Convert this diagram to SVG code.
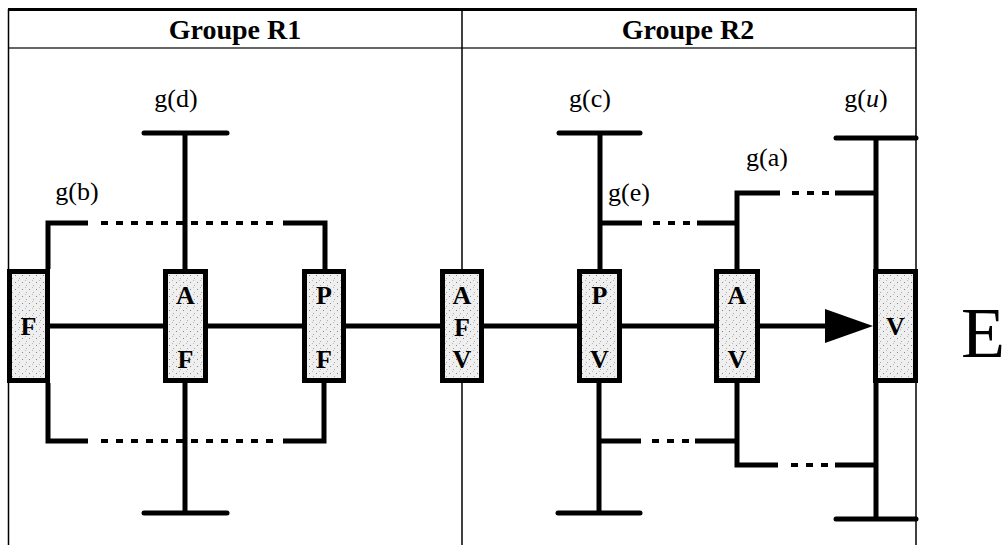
<svg xmlns="http://www.w3.org/2000/svg" width="1007" height="545" viewBox="0 0 1007 545">
<defs>
<pattern id="stip" width="7" height="7" patternUnits="userSpaceOnUse">
<rect width="7" height="7" fill="#efefef"/>
<rect x="1" y="2" width="1" height="1" fill="#888"/>
<rect x="5" y="5" width="1" height="1" fill="#aaa"/>
<rect x="4" y="0" width="1" height="1" fill="#bbb"/>
</pattern>
<style>
.frame{stroke:#000;fill:none;stroke-width:1.5}
.thick{stroke:#000;stroke-width:5;fill:none;stroke-linecap:butt}
.bar{stroke:#000;stroke-width:5;fill:none;stroke-linecap:round}
.dash{stroke:#000;stroke-width:4;fill:none;stroke-dasharray:7 8}
.box{fill:url(#stip);stroke:#000;stroke-width:5}
.bl{font-family:"Liberation Serif",serif;font-size:26px;font-weight:bold;text-anchor:middle}
.lbl{font-family:"Liberation Serif",serif;font-size:26px;text-anchor:middle}
.hdr{font-family:"Liberation Serif",serif;font-size:28px;font-weight:bold;text-anchor:middle}
</style>
</defs>
<rect width="1007" height="545" fill="#fff"/>
<g id="frame">
<line x1="8" y1="9.5" x2="917" y2="9.5" stroke="#000" stroke-width="3"/>
<line x1="8" y1="48" x2="916" y2="48" stroke="#333" stroke-width="1.5"/>
<line class="frame" x1="8.5" y1="9" x2="8.5" y2="545"/>
<line class="frame" x1="462" y1="9" x2="462" y2="545"/>
<line class="frame" x1="916" y1="9" x2="916" y2="545"/>
<text class="hdr" x="235" y="39">Groupe R1</text>
<text class="hdr" x="688" y="39">Groupe R2</text>
</g>
<g id="connectors">
<line class="thick" x1="50" y1="326" x2="825" y2="326"/>
<polygon points="825,309 873,326 825,343" fill="#000"/>
<polyline class="thick" points="48,269 48,223 88,223"/>
<line class="dash" x1="101" y1="223" x2="280" y2="223"/>
<polyline class="thick" points="283,223 325,223 325,269"/>
<polyline class="thick" points="48,383 48,441 88,441"/>
<line class="dash" x1="101" y1="441" x2="280" y2="441"/>
<polyline class="thick" points="283,441 324,441 324,383"/>
<line class="thick" x1="185" y1="133" x2="185" y2="269"/>
<line class="bar" x1="144" y1="133" x2="227" y2="133"/>
<line class="thick" x1="185" y1="383" x2="185" y2="513"/>
<line class="bar" x1="144" y1="513" x2="227" y2="513"/>
<line class="thick" x1="600" y1="133" x2="600" y2="269"/>
<line class="bar" x1="559" y1="133" x2="640" y2="133"/>
<line class="thick" x1="599" y1="383" x2="599" y2="513"/>
<line class="bar" x1="558" y1="513" x2="640" y2="513"/>
<line class="thick" x1="600" y1="223" x2="642" y2="223"/>
<line class="dash" x1="653" y1="223" x2="692" y2="223"/>
<line class="thick" x1="697" y1="223" x2="737" y2="223"/>
<line class="thick" x1="599" y1="441" x2="641" y2="441"/>
<line class="dash" x1="652" y1="441" x2="691" y2="441"/>
<line class="thick" x1="695" y1="441" x2="737" y2="441"/>
<polyline class="thick" points="737,269 737,193 780,193"/>
<line class="dash" x1="792" y1="193" x2="830" y2="193"/>
<line class="thick" x1="835" y1="193" x2="876" y2="193"/>
<polyline class="thick" points="737,383 737,465 778,465"/>
<line class="dash" x1="791" y1="465" x2="830" y2="465"/>
<line class="thick" x1="835" y1="465" x2="876" y2="465"/>
<line class="thick" x1="876" y1="138" x2="876" y2="519"/>
<line class="bar" x1="836" y1="138" x2="916" y2="138"/>
<line class="bar" x1="836" y1="519" x2="916" y2="519"/>
</g>
<g id="node-F"><rect class="box" x="9.5" y="271.5" width="38" height="109"/><text class="bl" x="28.5" y="335">F</text></g>
<g id="node-AF"><rect class="box" x="165.5" y="271.5" width="40" height="109"/><text class="bl" x="185.5" y="304">A</text><text class="bl" x="185.5" y="368">F</text></g>
<g id="node-PF"><rect class="box" x="304.5" y="271.5" width="39" height="109"/><text class="bl" x="324" y="304">P</text><text class="bl" x="324" y="368">F</text></g>
<g id="node-AFV"><rect class="box" x="442.5" y="271.5" width="39" height="109"/><text class="bl" x="462" y="304">A</text><text class="bl" x="462" y="336">F</text><text class="bl" x="462" y="368">V</text></g>
<g id="node-PV"><rect class="box" x="579.5" y="271.5" width="40" height="109"/><text class="bl" x="599.5" y="304">P</text><text class="bl" x="599.5" y="368">V</text></g>
<g id="node-AV"><rect class="box" x="716.5" y="271.5" width="41" height="109"/><text class="bl" x="737" y="304">A</text><text class="bl" x="737" y="368">V</text></g>
<g id="node-V"><rect class="box" x="875.5" y="271.5" width="40" height="109"/><text class="bl" x="895.5" y="335">V</text></g>
<g id="labels">
<text class="lbl" x="176" y="107">g(d)</text>
<text class="lbl" x="77" y="200">g(b)</text>
<text class="lbl" x="590" y="107">g(c)</text>
<text class="lbl" x="629" y="201">g(e)</text>
<text class="lbl" x="767" y="166">g(a)</text>
<text class="lbl" x="866" y="107">g(<tspan font-style="italic">u</tspan>)</text>
<text x="961" y="357" font-family="Liberation Serif, serif" font-size="72">E</text>
</g>
</svg>
